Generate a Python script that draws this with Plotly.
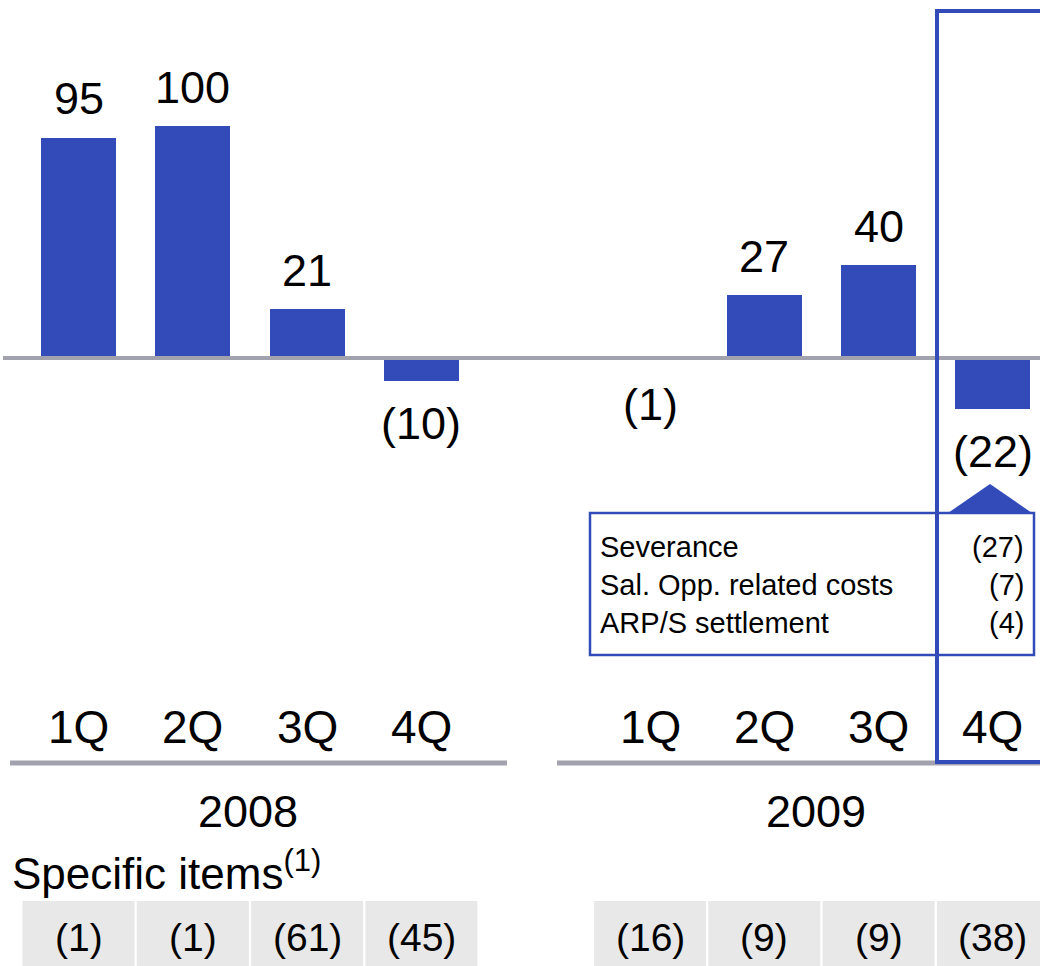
import plotly.graph_objects as go

# ---- data ----
years = ["2008", "2009"]
quarters = ["1Q", "2Q", "3Q", "4Q", "1Q", "2Q", "3Q", "4Q"]
slot_pos = [0, 1, 2, 3, 5, 6, 7, 8]
values = [95, 100, 21, -10, -1, 27, 40, -22]
specific_items = [-1, -1, -61, -45, -16, -9, -9, -38]
callout_labels = ["Severance", "Sal. Opp. related costs", "ARP/S settlement"]
callout_values = [-27, -7, -4]

BLUE = "#334BB9"
GRAY = "#A2A2AE"
FONT = "Liberation Sans, Arial, sans-serif"
W, H = 1040, 966


def fmt(v):
    return f"({abs(v)})" if v < 0 else str(v)


def py(p):
    return 1 - p / H


def px(p):
    return p / W


fig = go.Figure()
fig.add_trace(go.Bar(
    x=slot_pos, y=values, width=0.655,
    marker=dict(color=BLUE, line=dict(width=0)),
    hoverinfo="skip", showlegend=False,
))

ann = []
shapes = []

# value labels
for x, v in zip(slot_pos, values):
    ann.append(dict(x=x, y=v if v > 0 else min(v, -2), xref="x", yref="y",
                    text=fmt(v), showarrow=False, xanchor="center", yanchor="middle",
                    yshift=39 if v > 0 else -42,
                    font=dict(family=FONT, size=45, color="black")))

# zero line
shapes.append(dict(type="line", xref="paper", yref="y", x0=px(3), x1=1, y0=0, y1=0,
                   line=dict(color=GRAY, width=4), layer="above"))

# quarter labels
for x, q in zip(slot_pos, quarters):
    ann.append(dict(x=x, y=py(727), xref="x", yref="paper", text=q, showarrow=False,
                    xanchor="center", yanchor="middle",
                    font=dict(family=FONT, size=46, color="black")))

# year underline bars
shapes.append(dict(type="line", xref="paper", yref="paper", x0=px(10), x1=px(507),
                   y0=py(763), y1=py(763), line=dict(color=GRAY, width=5)))
shapes.append(dict(type="line", xref="paper", yref="paper", x0=px(557), x1=1,
                   y0=py(763), y1=py(763), line=dict(color=GRAY, width=5)))

# year labels
for cx, yr in zip([248, 816], years):
    ann.append(dict(x=px(cx), y=py(811), xref="paper", yref="paper", text=yr,
                    showarrow=False, xanchor="center", yanchor="middle",
                    font=dict(family=FONT, size=45, color="black")))

ann.append(dict(x=px(10), y=py(870), xref="paper", yref="paper",
                text="Specific items<sup><span style='font-size:31px'>(1)</span></sup>",
                showarrow=False, xanchor="left", yanchor="middle",
                font=dict(family=FONT, size=44, color="black")))

# specific items cells
for x, v in zip(slot_pos, specific_items):
    shapes.append(dict(type="rect", xref="x", yref="paper", x0=x - 0.49, x1=x + 0.49,
                       y0=py(966), y1=py(901), fillcolor="#E8E8E8",
                       line=dict(width=0), layer="below"))
    ann.append(dict(x=x, y=py(937), xref="x", yref="paper", text=fmt(v),
                    showarrow=False, xanchor="center", yanchor="middle",
                    font=dict(family=FONT, size=39, color="black")))

# callout box
shapes.append(dict(type="rect", xref="paper", yref="paper", x0=px(590), x1=px(1034),
                   y0=py(655), y1=py(513), fillcolor="white",
                   line=dict(color=BLUE, width=2.5), layer="above"))
shapes.append(dict(type="path", xref="paper", yref="paper",
                   path=f"M {px(948)},{py(513)} L {px(990)},{py(484)} L {px(1032)},{py(513)} Z",
                   fillcolor=BLUE, line=dict(width=0), layer="above"))
for i, (lab, v) in enumerate(zip(callout_labels, callout_values)):
    yy = py(547 + i * 38)
    ann.append(dict(x=px(598), y=yy, xref="paper", yref="paper", text=lab,
                    showarrow=False, xanchor="left", yanchor="middle",
                    font=dict(family=FONT, size=29, color="black")))
    ann.append(dict(x=px(1026), y=yy, xref="paper", yref="paper", text=fmt(v),
                    showarrow=False, xanchor="right", yanchor="middle",
                    font=dict(family=FONT, size=29, color="black")))

# highlight frame around 2009 4Q
shapes.append(dict(type="rect", xref="paper", yref="paper", x0=px(937), x1=px(1048),
                   y0=py(762), y1=py(11), fillcolor="rgba(0,0,0,0)",
                   line=dict(color=BLUE, width=4), layer="above"))

y_top = 358 / 2.32
y_bot = -(H - 358) / 2.32
x_left = -78.5 / 114.3
x_right = (W - 78.5) / 114.3

fig.update_layout(
    width=W, height=H,
    margin=dict(l=0, r=0, t=0, b=0),
    paper_bgcolor="white", plot_bgcolor="white",
    xaxis=dict(range=[x_left, x_right], visible=False, fixedrange=True),
    yaxis=dict(range=[y_bot, y_top], visible=False, fixedrange=True),
    annotations=ann, shapes=shapes, bargap=0,
)

fig.write_html("out.html", config={"displayModeBar": False},
               post_script="document.body.style.margin='0';document.body.style.overflow='hidden';")
